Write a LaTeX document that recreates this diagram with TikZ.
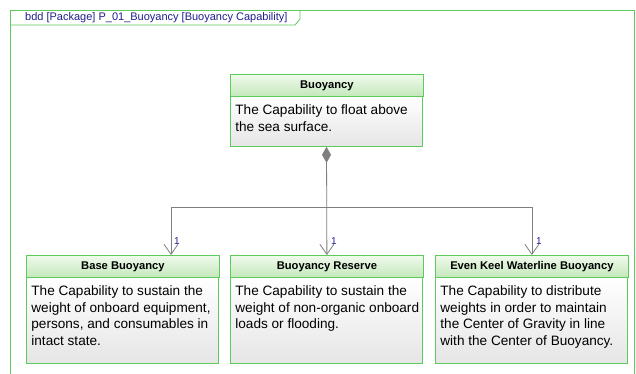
\documentclass[tikz,border=0pt]{standalone}
\usepackage{fontspec}
\setmainfont{Liberation Sans}
\usetikzlibrary{arrows.meta}

\definecolor{umlgreen}{HTML}{5CCB5C}
\definecolor{headtop}{HTML}{F0FAEC}
\definecolor{headbot}{HTML}{C4E8BC}
\definecolor{linkgray}{HTML}{7F7F7F}
\definecolor{titleblue}{HTML}{1F1F8F}

\tikzset{
  blockhead/.style={draw=umlgreen, line width=0.8pt, top color=headtop, bottom color=headbot,
    minimum width=193pt, minimum height=22pt, inner sep=0pt, anchor=north west,
    font=\fontsize{11.2}{13}\selectfont\bfseries},
  blockbody/.style={draw=umlgreen, line width=0.8pt, top color=white, middle color=white,
    bottom color=black!10, inner xsep=5pt, inner ysep=0pt, anchor=north west,
    font=\fontsize{13.6}{16.7}\selectfont},
  partline/.style={draw=linkgray, line width=0.8pt},
  compose/.style={partline, {Diamond[length=16pt,width=9pt,fill=linkgray]}-{Straight Barb[length=10pt,width=14pt]}},
  partof/.style={partline, -{Straight Barb[length=10pt,width=14pt]}},
  mult/.style={text=titleblue, font=\fontsize{10}{12}\selectfont, inner sep=0pt},
}
\newcommand{\bodytext}[2]{\parbox[c][#1][t]{182.2pt}{\vspace{6.5pt}\begin{tabular}[t]{@{}l@{}}#2\end{tabular}}}

\begin{document}
\begin{tikzpicture}[x=1pt,y=-1pt]
  \useasboundingbox (0,0) rectangle (636,374);
  \fill[white] (0,0) rectangle (636,374);

  % frame
  \draw[umlgreen, line width=0.8pt] (10,380) -- (10,10) -- (634,10) -- (634,380);
  \draw[umlgreen, line width=0.8pt] (10,25) -- (295,25) -- (300,19) -- (300,10);
  \node[anchor=west, text=titleblue, font=\fontsize{11}{13}\selectfont, inner sep=0pt] (frameTitle) at (25,17.5)
    {bdd [Package] P\_01\_Buoyancy [Buoyancy Capability]};

  % blocks
  \node[blockhead] (buoyHead) at (230,74) {Buoyancy};
  \node[blockbody] (buoyBody) at (230,96)
    {\bodytext{50pt}{The Capability to float above\\the sea surface.}};

  \node[blockhead] (baseHead) at (26,255) {Base Buoyancy};
  \node[blockbody] (baseBody) at (26,277)
    {\bodytext{86pt}{The Capability to sustain the\\weight of onboard equipment,\\persons, and consumables in\\intact state.}};

  \node[blockhead] (resHead) at (230,255) {Buoyancy Reserve};
  \node[blockbody] (resBody) at (230,277)
    {\bodytext{86pt}{The Capability to sustain the\\weight of non-organic onboard\\loads or flooding.}};

  \node[blockhead] (evenHead) at (435,255) {Even Keel Waterline Buoyancy};
  \node[blockbody] (evenBody) at (435,277)
    {\bodytext{86pt}{The Capability to distribute\\weights in order to maintain\\the Center of Gravity in line\\with the Center of Buoyancy.}};

  % composition
  \coordinate (split) at (326.5,207);
  \coordinate (baseIn) at (171,255);
  \draw[compose] (buoyBody.south) -- (resHead.north);
  \draw[partof] (split) -| (baseIn);
  \draw[partof] (split) -| (evenHead.north);

  \node[mult] (baseMult) at (177,241) {1};
  \node[mult] (resMult) at (334,241) {1};
  \node[mult] (evenMult) at (539,241) {1};
\end{tikzpicture}
\end{document}
